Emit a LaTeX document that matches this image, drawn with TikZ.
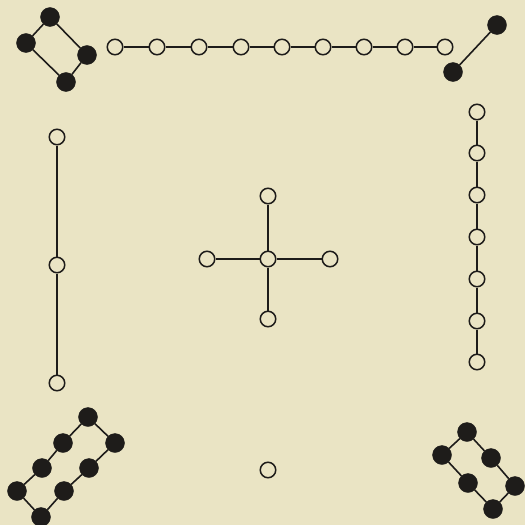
\documentclass[tikz,border=0pt]{standalone}
\definecolor{paper}{RGB}{234,228,196}
\definecolor{ink}{RGB}{30,28,26}
\begin{document}
\begin{tikzpicture}[x=1pt,y=-1pt,
  wh/.style={circle,draw=ink,line width=1.5pt,fill=paper,minimum size=15.5pt,inner sep=0pt},
  bk/.style={circle,fill=ink,draw=ink,minimum size=19pt,inner sep=0pt},
  ln/.style={draw=ink,line width=1.6pt}]
\fill[paper] (0,0) rectangle (525,525);
\useasboundingbox (0,0) rectangle (525,525);
% top-left rhombus
\node[bk] (a1) at (50,17) {};
\node[bk] (a2) at (26,43) {};
\node[bk] (a3) at (87,55) {};
\node[bk] (a4) at (66,82) {};
\draw[ln] (a1)--(a2)--(a4)--(a3)--(a1);
% top row
\foreach \i/\x in {1/115,2/157,3/199,4/241,5/282,6/323,7/364,8/405,9/445}
  \node[wh] (t\i) at (\x,47) {};
\draw[ln] (t1)--(t2)--(t3)--(t4)--(t5)--(t6)--(t7)--(t8)--(t9);
% top-right pair
\node[bk] (b1) at (497,25) {};
\node[bk] (b2) at (453,72) {};
\draw[ln] (b1)--(b2);
% left column
\node[wh] (l1) at (57,137) {};
\node[wh] (l2) at (57,265) {};
\node[wh] (l3) at (57,383) {};
\draw[ln] (l1)--(l2)--(l3);
% right column
\foreach \i/\y in {1/112,2/153,3/195,4/237,5/279,6/321,7/362}
  \node[wh] (r\i) at (477,\y) {};
\draw[ln] (r1)--(r2)--(r3)--(r4)--(r5)--(r6)--(r7);
% center cross
\node[wh] (c0) at (268,259) {};
\node[wh] (cn) at (268,196) {};
\node[wh] (cw) at (207,259) {};
\node[wh] (ce) at (330,259) {};
\node[wh] (cs) at (268,319) {};
\draw[ln] (c0)--(cn) (c0)--(cw) (c0)--(ce) (c0)--(cs);
% bottom single
\node[wh] (s) at (268,470) {};
% bottom-left ring
\node[bk] (d1) at (88,417) {};
\node[bk] (d2) at (63,443) {};
\node[bk] (d3) at (42,468) {};
\node[bk] (d4) at (17,491) {};
\node[bk] (d5) at (41,517) {};
\node[bk] (d6) at (64,491) {};
\node[bk] (d7) at (89,468) {};
\node[bk] (d8) at (115,443) {};
\draw[ln] (d1)--(d2)--(d3)--(d4)--(d5)--(d6)--(d7)--(d8)--(d1);
% bottom-right ring
\node[bk] (e1) at (467,432) {};
\node[bk] (e2) at (442,455) {};
\node[bk] (e3) at (468,483) {};
\node[bk] (e4) at (493,509) {};
\node[bk] (e5) at (515,486) {};
\node[bk] (e6) at (491,458) {};
\draw[ln] (e1)--(e2)--(e3)--(e4)--(e5)--(e6)--(e1);
\end{tikzpicture}
\end{document}
